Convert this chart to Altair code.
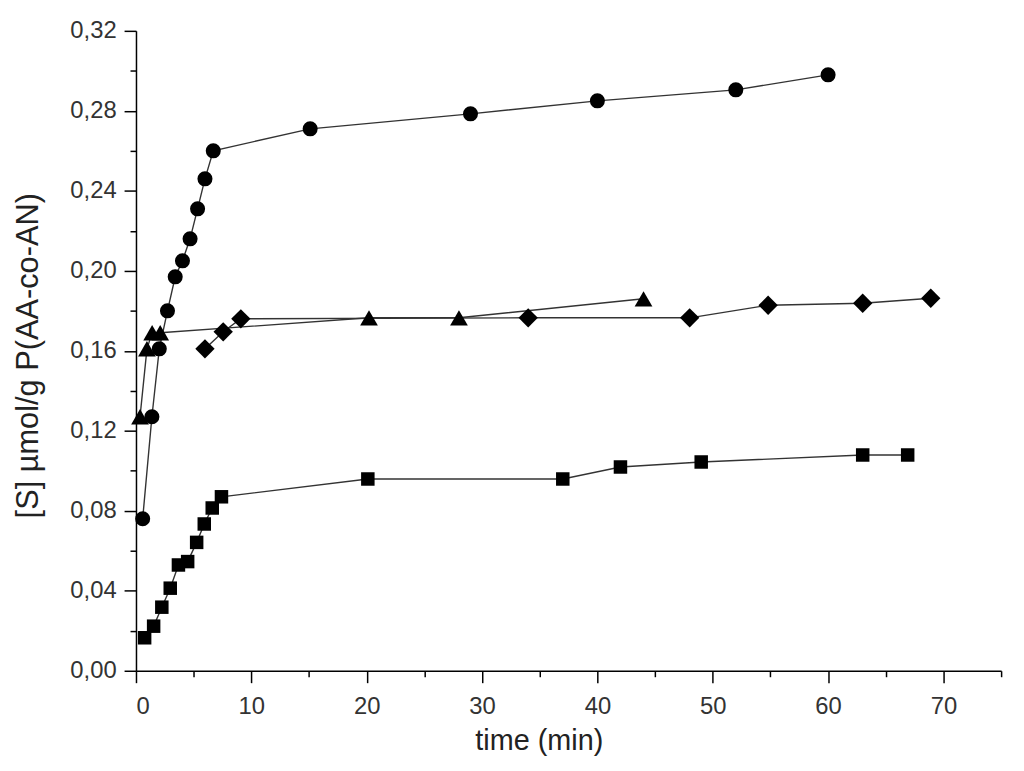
import altair as alt
import pandas as pd

# ---- data ----
circle_t = [0.58, 1.38, 2.02, 2.73, 3.40, 4.03, 4.69, 5.34, 5.98, 6.70, 15.1, 29.0, 40.0, 52.0, 60.0]
circle_v = [0.076, 0.127, 0.161, 0.180, 0.197, 0.205, 0.216, 0.231, 0.246, 0.260, 0.271, 0.2785, 0.285, 0.2905, 0.298]

triangle_t = [0.35, 0.95, 1.4, 2.1, 20.2, 28.0, 44.0]
triangle_v = [0.127, 0.161, 0.169, 0.169, 0.1765, 0.1765, 0.186]

diamond_t = [5.98, 7.56, 9.09, 34.0, 48.0, 54.8, 63.0, 68.9]
diamond_v = [0.161, 0.1695, 0.176, 0.1765, 0.1765, 0.1828, 0.1838, 0.1863]

square_t = [0.75, 1.53, 2.24, 2.97, 3.68, 4.48, 5.26, 5.92, 6.61, 7.41, 20.1, 37.0, 42.0, 49.0, 63.0, 66.9]
square_v = [0.0165, 0.0223, 0.0318, 0.0413, 0.0529, 0.0546, 0.0642, 0.0734, 0.0814, 0.0870,
            0.0959, 0.0959, 0.1019, 0.1044, 0.1079, 0.1079]

series_names = ["circle", "triangle", "diamond", "square"]
series_shapes = ["circle", "triangle-up", "diamond", "square"]
series_sizes = [230, 320, 380, 185]

x_major = [0, 10, 20, 30, 40, 50, 60, 70]
x_minor = [5, 15, 25, 35, 45, 55, 65, 75]
y_major = [0.00, 0.04, 0.08, 0.12, 0.16, 0.20, 0.24, 0.28, 0.32]
y_minor = [0.02, 0.06, 0.10, 0.14, 0.18, 0.22, 0.26, 0.30]

rows = []
for name, ts, vs in [("circle", circle_t, circle_v), ("triangle", triangle_t, triangle_v),
                     ("diamond", diamond_t, diamond_v), ("square", square_t, square_v)]:
    for i, (t, v) in enumerate(zip(ts, vs)):
        rows.append({"series": name, "t": t, "v": v, "order": i})
df = pd.DataFrame(rows)

FONT = "Liberation Sans"
xscale = alt.Scale(domain=[0, 75], nice=False, zero=False)
yscale = alt.Scale(domain=[0, 0.32], nice=False)

x_axis_major = alt.Axis(
    orient="bottom", values=x_major, tickSize=12, tickWidth=1.5, domainWidth=1.5,
    domainColor="black", tickColor="black", labelFont=FONT, labelFontSize=24,
    labelColor="#333333", labelPadding=12, grid=False, title="time (min)",
    titleFont=FONT, titleFontSize=29, titleFontWeight="normal", titleColor="#222222",
    titleX=406, titleY=79, titleBaseline="alphabetic", titleAnchor="start", titleAlign="center",
)
y_axis_major = alt.Axis(
    orient="left", values=y_major, tickSize=12, tickWidth=1.5, domainWidth=1.5,
    domainColor="black", tickColor="black", labelFont=FONT, labelFontSize=24,
    labelColor="#333333", labelPadding=8, grid=False,
    labelExpr="replace(format(datum.value, '.2f'), '.', ',')",
    title="[S] µmol/g P(AA-co-AN)", titleFont=FONT, titleFontSize=31,
    titleFontWeight="normal", titleColor="#222222",
    titleX=-99, titleY=327, titleBaseline="alphabetic", titleAnchor="start", titleAlign="center",
    titleAngle=270,
)
x_axis_minor = alt.Axis(orient="bottom", values=x_minor, tickSize=6, tickWidth=1.5,
                        labels=False, domain=False, grid=False, title="", tickColor="black")
y_axis_minor = alt.Axis(orient="left", values=y_minor, tickSize=6, tickWidth=1.5,
                        labels=False, domain=False, grid=False, title="", tickColor="black")

lines = alt.Chart(df).mark_line(color="#333333", strokeWidth=1.4).encode(
    x=alt.X("t:Q", scale=xscale, axis=x_axis_major),
    y=alt.Y("v:Q", scale=yscale, axis=y_axis_major),
    detail="series:N",
    order="order:Q",
)

layers = [lines]
for i, (name, shape, size) in enumerate(zip(series_names, series_shapes, series_sizes)):
    pts = alt.Chart(df).transform_filter(alt.datum.series == name).mark_point(
        filled=True, color="black", opacity=1, shape=shape, size=size
    ).encode(
        x=alt.X("t:Q", scale=xscale, axis=x_axis_minor if i == 0 else None),
        y=alt.Y("v:Q", scale=yscale, axis=y_axis_minor if i == 0 else None),
    )
    layers.append(pts)

chart = alt.layer(*layers).resolve_axis(x="independent", y="independent").properties(
    width=872, height=645,
    padding={"left": 129, "top": 20, "right": 15, "bottom": 98},
    autosize=alt.AutoSizeParams(type="none"),
).configure_view(stroke=None)

chart.save("out.html", embed_options={"renderer": "svg", "actions": False})
